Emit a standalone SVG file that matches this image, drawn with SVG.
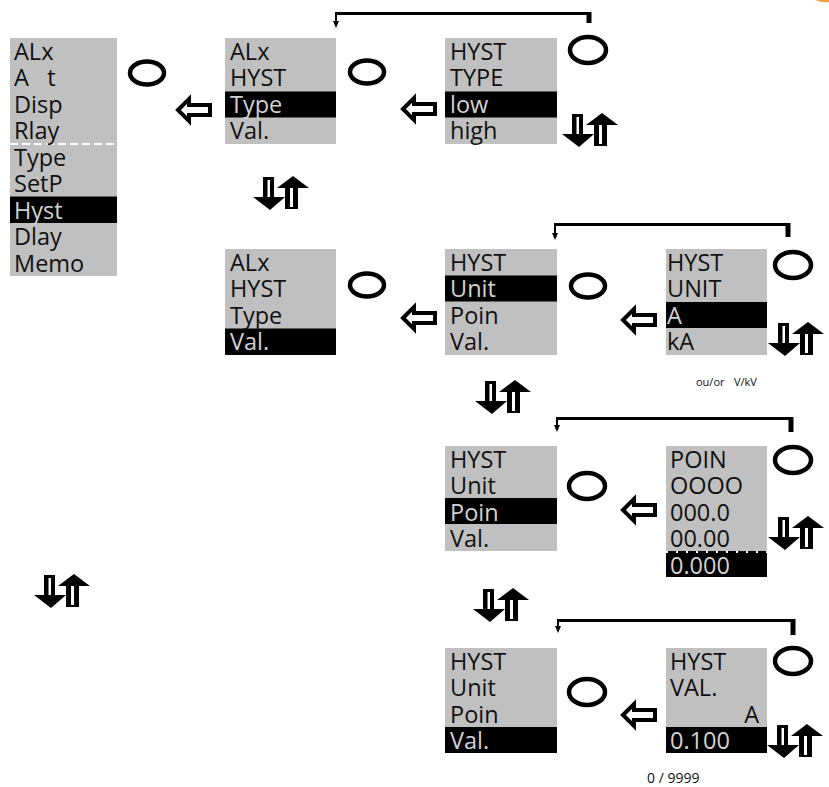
<svg xmlns="http://www.w3.org/2000/svg" width="829" height="787" viewBox="0 0 829 787">
<style>
.pn{fill:#c0c0c0}
.hl{fill:#000}
.t{font-family:"Open Sans","DejaVu Sans",sans-serif;font-size:23.5px;fill:#111}
.th{font-family:"Open Sans","DejaVu Sans",sans-serif;font-size:23.5px;fill:#d2d2d2}
.sm{font-family:"Open Sans","DejaVu Sans",sans-serif;font-size:11px;fill:#111}
.sm2{font-family:"Open Sans","DejaVu Sans",sans-serif;font-size:14px;fill:#111}
.btn{fill:none;stroke:#000;stroke-width:4.5}
.ln{fill:none;stroke:#000;stroke-width:3}
.lt{fill:none;stroke:#000;stroke-width:2}
.thick{fill:none;stroke:#000;stroke-width:5}
.dash{stroke:#fff;stroke-width:2;stroke-dasharray:8 4}
</style>
<defs>
<g id="ud">
<rect x="10" y="1" width="11" height="22" fill="#000"/>
<rect x="14.5" y="4" width="2.5" height="19" fill="#fff"/>
<polygon points="0,21 32,21 17,34" fill="#000"/>
<rect x="32" y="10" width="13" height="23" fill="#000"/>
<rect x="37" y="12" width="3" height="19" fill="#fff"/>
<polygon points="24,12 56,12 40,0" fill="#000"/>
</g>
<polygon id="la" points="2,14 13,3 13,9 34,9 34,19 13,19 13,25" fill="#fff" stroke="#000" stroke-width="4" stroke-linejoin="miter"/>
<ellipse id="bt" cx="0" cy="0" rx="17" ry="11.5" class="btn"/>
<ellipse id="bt2" cx="0" cy="0" rx="18" ry="13" class="btn"/>
</defs>

<path d="M815,0 Q822,3 829,2 L829,0 Z" fill="#f0a040"/>

<g id="connectors">
<path class="ln" d="M336,13.5 H589"/><path class="thick" d="M589,12 V23"/><path class="lt" d="M336,12 V22"/><polygon points="333,21 339,21 336,28" fill="#000"/>
<path class="ln" d="M555,224.5 H788"/><path class="thick" d="M788,223 V237"/><path class="lt" d="M555,223 V234"/><polygon points="552,233 558,233 555,240" fill="#000"/>
<path class="ln" d="M557,418.5 H791"/><path class="thick" d="M791,417 V432"/><path class="lt" d="M557,417 V426"/><polygon points="554,425 560,425 557,432" fill="#000"/>
<path class="ln" d="M558,620.5 H793"/><path class="thick" d="M793,619 V635"/><path class="lt" d="M558,619 V627"/><polygon points="555,626 561,626 558,633" fill="#000"/>
<use href="#la" x="176" y="96"/>
<use href="#la" x="401" y="95"/>
<use href="#la" x="401" y="304"/>
<use href="#la" x="621" y="306"/>
<use href="#la" x="621" y="496"/>
<use href="#la" x="621" y="701"/>
</g>

<g id="buttons">
<use href="#bt" x="147" y="73"/>
<use href="#bt" x="367" y="72"/>
<use href="#bt2" x="588" y="50"/>
<use href="#bt" x="367" y="285"/>
<use href="#bt" x="588" y="286"/>
<use href="#bt2" x="793" y="265"/>
<use href="#bt2" x="587" y="486"/>
<use href="#bt2" x="793" y="460"/>
<use href="#bt2" x="587" y="692"/>
<use href="#bt2" x="793" y="661"/>
</g>

<g id="updown">
<use href="#ud" x="562" y="113"/>
<use href="#ud" x="253" y="176"/>
<use href="#ud" x="768" y="322"/>
<use href="#ud" x="475" y="380"/>
<use href="#ud" x="768" y="516"/>
<use href="#ud" x="473" y="588"/>
<use href="#ud" x="767" y="724"/>
<use href="#ud" x="34" y="574"/>
</g>

<g id="menu-main">
<rect class="pn" x="10" y="38" width="107" height="238"/>
<rect class="hl" x="10" y="196.5" width="107" height="26.5"/>
<line class="dash" x1="10" y1="144" x2="117" y2="144"/>
<text class="t" x="14" y="59.5">ALx</text>
<text class="t" x="14" y="86" xml:space="preserve">A   t</text>
<text class="t" x="14" y="112.5">Disp</text>
<text class="t" x="14" y="139">Rlay</text>
<text class="t" x="14" y="165.5">Type</text>
<text class="t" x="14" y="192">SetP</text>
<text class="th" x="14" y="218.5">Hyst</text>
<text class="t" x="14" y="245">Dlay</text>
<text class="t" x="14" y="271.5">Memo</text>
</g>

<g id="menu-hyst-type">
<rect class="pn" x="225" y="38" width="111" height="106"/>
<rect class="hl" x="225" y="91.5" width="111" height="26"/>
<text class="t" x="230" y="59.5">ALx</text>
<text class="t" x="230" y="86">HYST</text>
<text class="th" x="230" y="112.5">Type</text>
<text class="t" x="230" y="139">Val.</text>
</g>

<g id="type-select">
<rect class="pn" x="445" y="38" width="112" height="106"/>
<rect class="hl" x="445" y="91.5" width="112" height="26"/>
<text class="t" x="450" y="59.5">HYST</text>
<text class="t" x="450" y="86">TYPE</text>
<text class="th" x="450" y="112.5">low</text>
<text class="t" x="450" y="139">high</text>
</g>

<g id="menu-hyst-val">
<rect class="pn" x="225" y="249" width="111" height="106"/>
<rect class="hl" x="225" y="328.5" width="111" height="26.5"/>
<text class="t" x="230" y="270.5">ALx</text>
<text class="t" x="230" y="297">HYST</text>
<text class="t" x="230" y="323.5">Type</text>
<text class="th" x="230" y="350">Val.</text>
</g>

<g id="val-unit">
<rect class="pn" x="445" y="249" width="112" height="106"/>
<rect class="hl" x="445" y="275.5" width="112" height="26"/>
<text class="t" x="450" y="270.5">HYST</text>
<text class="th" x="450" y="297">Unit</text>
<text class="t" x="450" y="323.5">Poin</text>
<text class="t" x="450" y="350">Val.</text>
</g>

<g id="unit-select">
<rect class="pn" x="666" y="249" width="101" height="106"/>
<rect class="hl" x="666" y="302" width="101" height="26"/>
<text class="t" x="667" y="270.5">HYST</text>
<text class="t" x="667" y="297">UNIT</text>
<text class="th" x="667" y="323.5">A</text>
<text class="t" x="667" y="350">kA</text>
<text class="sm" x="696" y="386">ou/or<tspan x="734">V/kV</tspan></text>
</g>

<g id="val-poin">
<rect class="pn" x="445" y="446" width="112" height="105"/>
<rect class="hl" x="445" y="498" width="112" height="26"/>
<text class="t" x="450" y="467.5">HYST</text>
<text class="t" x="450" y="494">Unit</text>
<text class="th" x="450" y="520.5">Poin</text>
<text class="t" x="450" y="547">Val.</text>
</g>

<g id="poin-select">
<rect class="pn" x="666" y="446" width="101" height="105"/>
<rect class="hl" x="666" y="551" width="101" height="26"/>
<line class="dash" x1="666" y1="552" x2="767" y2="552" style="stroke-dasharray:2 8"/>
<text class="t" x="670" y="467.5">POIN</text>
<text class="t" x="670" y="494">OOOO</text>
<text class="t" x="670" y="520.5">000.0</text>
<text class="t" x="670" y="547">00.00</text>
<text class="th" x="670" y="573.5">0.000</text>
</g>

<g id="val-val">
<rect class="pn" x="445" y="648" width="112" height="105"/>
<rect class="hl" x="445" y="727" width="112" height="26"/>
<text class="t" x="450" y="669.5">HYST</text>
<text class="t" x="450" y="696">Unit</text>
<text class="t" x="450" y="722.5">Poin</text>
<text class="th" x="450" y="749">Val.</text>
</g>

<g id="val-edit">
<rect class="pn" x="666" y="648" width="101" height="79"/>
<rect class="hl" x="666" y="727" width="101" height="26"/>
<text class="t" x="670" y="669.5">HYST</text>
<text class="t" x="670" y="696">VAL.</text>
<text class="t" x="759" y="722.5" text-anchor="end">A</text>
<text class="th" x="670" y="749">0.100</text>
<text class="sm2" x="647" y="783" xml:space="preserve">0 / 9999</text>
</g>
</svg>
